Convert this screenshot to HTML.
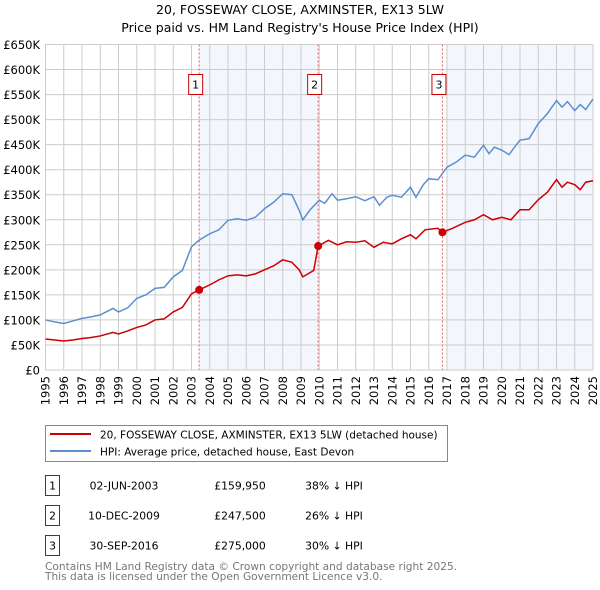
<!DOCTYPE html>
<html><head><meta charset="utf-8"><style>
body{margin:0;background:#fff;font-family:"DejaVu Sans","Liberation Sans",sans-serif;}
svg{display:block}
</style></head><body>
<svg id="c" width="600" height="590" font-family="DejaVu Sans, Liberation Sans, sans-serif">
<text x="300" y="14" text-anchor="middle" font-size="12.5">20, FOSSEWAY CLOSE, AXMINSTER, EX13 5LW</text>
<text x="300" y="32" text-anchor="middle" font-size="12.5">Price paid vs. HM Land Registry's House Price Index (HPI)</text>
<g id="plot"></g>
<g>
<rect x="45.5" y="425.5" width="402" height="36" fill="#fff" stroke="#888"/>
<line x1="50" y1="434" x2="91" y2="434" stroke="#cc0000" stroke-width="2"/>
<text x="100" y="438.5" font-size="10.5">20, FOSSEWAY CLOSE, AXMINSTER, EX13 5LW (detached house)</text>
<line x1="50" y1="451" x2="91" y2="451" stroke="#5b8fd0" stroke-width="2"/>
<text x="100" y="455.5" font-size="10.5">HPI: Average price, detached house, East Devon</text>
</g>
<g id="table" font-size="11"></g>
<text x="45" y="570" font-size="10.6" fill="#777">Contains HM Land Registry data © Crown copyright and database right 2025.</text>
<text x="45" y="580" font-size="10.6" fill="#777">This data is licensed under the Open Government Licence v3.0.</text>
</svg>
<script>
const yTicks=[0,50,100,150,200,250,300,350,400,450,500,550,600,650];
const yLabels=["£0","£50K","£100K","£150K","£200K","£250K","£300K","£350K","£400K","£450K","£500K","£550K","£600K","£650K"];
const years=[1995,1996,1997,1998,1999,2000,2001,2002,2003,2004,2005,2006,2007,2008,2009,2010,2011,2012,2013,2014,2015,2016,2017,2018,2019,2020,2021,2022,2023,2024,2025];
const hpiT=[1995,1995.5,1996,1996.5,1997,1997.5,1998,1998.7,1999,1999.5,2000,2000.5,2001,2001.5,2002,2002.5,2003,2003.4,2004,2004.5,2005,2005.5,2006,2006.5,2007,2007.5,2008,2008.5,2008.9,2009.1,2009.5,2010,2010.3,2010.7,2011,2011.5,2012,2012.5,2013,2013.3,2013.7,2014,2014.5,2015,2015.3,2015.7,2016,2016.5,2017,2017.5,2018,2018.5,2019,2019.3,2019.6,2020,2020.4,2020.7,2021,2021.5,2022,2022.5,2023,2023.3,2023.6,2024,2024.3,2024.6,2025];
const hpiV=[100,96,93,98,103,106,110,123,116,124,143,150,163,165,186,199,246,259,272,280,299,302,299,305,322,335,352,350,319,300,320,339,333,352,339,342,346,338,346,329,345,349,345,365,345,370,382,380,405,415,429,425,449,432,445,439,430,445,459,462,492,512,538,525,536,518,530,520,541];
const redT=[1995,1995.5,1996,1996.5,1997,1997.5,1998,1998.7,1999,1999.5,2000,2000.5,2001,2001.5,2002,2002.5,2003,2003.42,2004,2004.5,2005,2005.5,2006,2006.5,2007,2007.5,2008,2008.5,2008.9,2009.1,2009.7,2009.94,2010.5,2011,2011.5,2012,2012.5,2013,2013.5,2014,2014.5,2015,2015.3,2015.8,2016.5,2016.75,2017.3,2018,2018.5,2019,2019.5,2020,2020.5,2021,2021.5,2022,2022.5,2023,2023.3,2023.6,2024,2024.3,2024.6,2025];
const redV=[62,60,58,60,63,65,68,75,72,78,85,90,100,102,116,125,152,159.95,170,180,188,190,188,192,200,208,220,215,200,186,199,247.5,259,250,256,255,258,245,255,252,262,270,262,280,283,275,283,295,300,310,300,305,300,320,320,340,355,380,365,375,370,360,375,378];
const saleT=[2003.42,2009.94,2016.75];
const saleV=[159.95,247.5,275];
const saleLabels=["1","2","3"];
const saleDates=["02-JUN-2003","10-DEC-2009","30-SEP-2016"];
const salePrices=["£159,950","£247,500","£275,000"];
const salePct=["38% ↓ HPI","26% ↓ HPI","30% ↓ HPI"];
const X0=45.5,X1=593,Y0=370,Y1=44.5;
const xs=t=>X0+(t-1995)/30*(X1-X0);
const ys=v=>Y0-v/650*(Y0-Y1);
const NS="http://www.w3.org/2000/svg";
function mk(tag,at,parent){const e=document.createElementNS(NS,tag);for(const k in at)e.setAttribute(k,at[k]);parent.appendChild(e);return e;}
const p=document.getElementById('plot');
const s1=mk('rect',{x:xs(saleT[0]),y:Y1,width:xs(saleT[1])-xs(saleT[0]),height:Y0-Y1,fill:'#f3f6fd'},p);


const s2=mk('rect',{x:xs(2017),y:Y1,width:X1-xs(2017),height:Y0-Y1,fill:'#f3f6fd'},p);


yTicks.forEach((v,i)=>{
  const l=mk('line',{x1:X0,x2:X1,y1:ys(v),y2:ys(v),stroke:'#cccccc','stroke-width':1},p);
  
  
  const t=mk('text',{x:40,y:ys(v)+4.5,'text-anchor':'end','font-size':'11.5'},p);
  
  
  t.textContent=yLabels[i];
});
years.forEach(y=>{
  const l=mk('line',{x1:xs(y),x2:xs(y),y1:Y1,y2:Y0,stroke:'#cccccc','stroke-width':1},p);
  
  
  const t=mk('text',{x:0,y:0,'text-anchor':'end','font-size':'11.5',transform:`translate(${xs(y)+4},${Y0+6}) rotate(-90)`},p);
  
  
  t.textContent=y;
});
const ax=mk('rect',{x:X0,y:Y1,width:X1-X0,height:Y0-Y1,fill:'none',stroke:'#cccccc'},p);


saleT.forEach((t,i)=>{
  const l=mk('line',{x1:xs(t),x2:xs(t),y1:Y1,y2:Y0,stroke:'#e06060','stroke-dasharray':'2,2','stroke-width':1},p);
  
  
  const b=mk('rect',{x:xs(t)-10.5,y:74.5,width:14,height:20,fill:'#fff',stroke:'#cc0000'},p);
  
  
  const tx=mk('text',{x:xs(t)-3.5,y:88.5,'text-anchor':'middle','font-size':'11'},p);
  
  
  tx.textContent=saleLabels[i];
});
const hp=mk('polyline',{points:hpiT.map((t,i)=>xs(t)+','+ys(hpiV[i])).join(' '),fill:'none',stroke:'#5b8fd0','stroke-width':1.5},p);


const rp=mk('polyline',{points:redT.map((t,i)=>xs(t)+','+ys(redV[i])).join(' '),fill:'none',stroke:'#cc0000','stroke-width':1.5},p);


saleT.forEach((t,i)=>{
  const c=mk('circle',{cx:xs(t),cy:ys(saleV[i]),r:4,fill:'#cc0000'},p);
  
  
});
const tb=document.getElementById('table');
saleT.forEach((t,i)=>{
  const y0=475.5+i*30;
  const b=mk('rect',{x:45.5,y:y0,width:14,height:20,fill:'#fff',stroke:'#cc0000'},tb);
  
  
  const vals=[[52.5,saleLabels[i]],[124,saleDates[i]],[240,salePrices[i]],[334,salePct[i]]];
  vals.forEach(([x,s],j)=>{
    const tx=mk('text',{x:x,y:y0+14,'text-anchor':'middle','font-size':'10.8'},tb);
    
    
    tx.textContent=s;
  });
});
</script>
</body></html>
